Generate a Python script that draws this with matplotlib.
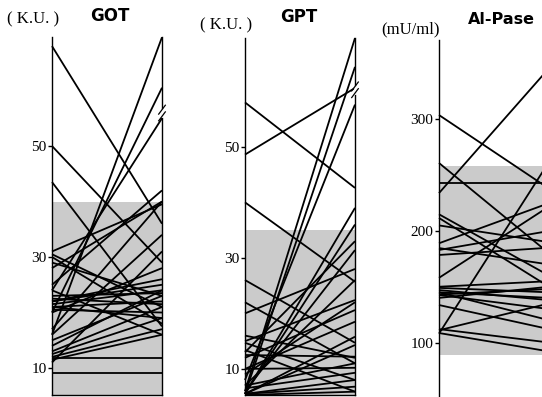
import matplotlib
matplotlib.use("Agg")
import matplotlib.pyplot as plt

# ---------------- data (before -> after) ----------------
got_before = [68, 50, 43.5, 16, 20, 24, 31, 30.5, 30, 29, 28, 25, 24, 22, 22,
              21.5, 21, 21, 20.5, 20, 17, 16, 15, 14, 13, 12.5, 12, 11.5, 11,
              11.8, 9.1, 23, 22.5]
got_after = [36, 29, 17.5, 69.6, 60.5, 55, 39.5, 21, 18, 23, 40, 42, 16, 25, 26,
             24, 22, 19, 20, 28, 40, 34, 23, 24, 21, 19, 17, 16, 31,
             11.8, 9.1, 23.5, 21.5]

gpt_before = [58, 48.6, 6, 5.5, 8, 40, 26, 5.5, 5.5, 6, 7, 13, 15, 16, 12,
              10, 5.5, 5.5, 9, 12.5, 10, 7, 6.5, 5.5, 5.5, 5.3, 14.7, 13.4,
              20, 22]
gpt_after = [42.6, 60.6, 69.6, 64.4, 57.6, 25.7, 14.7, 39, 36, 31.4, 26, 33,
             22.4, 12, 20.6, 18.5, 15.8, 14.3, 22, 12.2, 10.2, 11, 9.3, 8,
             6.8, 5.9, 8, 5.9, 28, 11]

alp_before = [304, 234, 243, 261, 108, 211.7, 205, 189, 184.7, 178.5, 158,
              149, 145, 142.6, 140, 133.6, 111, 108.5, 112, 145,
              147, 150, 143, 183, 215]
alp_after = [238, 346, 243, 180, 262, 150, 190, 225, 170, 185, 222,
             145, 140, 130, 150, 112, 135, 92, 100, 120,
             138, 155, 148, 200, 160]

got_normal = (0, 40)
gpt_normal = (0, 35)
alp_normal = (89, 258)

got_ticks = [10, 30, 50]
gpt_ticks = [10, 30, 50]
alp_ticks = [100, 200, 300]

# ---------------- figure ----------------
W, H = 542, 397
fig = plt.figure(figsize=(W / 100, H / 100), dpi=100)
fig.patch.set_facecolor("white")

serif = "Liberation Serif"


def px_axes(x0, x1, ytop, ybot):
    return fig.add_axes([x0 / W, (H - ybot) / H, (x1 - x0) / W, (ybot - ytop) / H])


def panel(ax, before, after, ylim, ticks, normal, bottom_spine=True, brk=None):
    ax.set_xlim(0, 1)
    ax.set_ylim(*ylim)
    lo = max(normal[0], ylim[0])
    ax.axhspan(lo, normal[1], facecolor="#cbcbcb", edgecolor="none", zorder=0)
    for b, a in zip(before, after):
        ax.plot([0, 1], [b, a], color="black", lw=1.3, solid_capstyle="butt",
                zorder=2, clip_on=False)
    ax.spines["top"].set_visible(False)
    ax.spines["bottom"].set_visible(bottom_spine)
    for s in ["left", "right", "bottom"]:
        ax.spines[s].set_linewidth(1.0)
    ax.set_xticks([])
    ax.set_yticks(ticks)
    ax.set_yticklabels([str(t) for t in ticks], fontfamily=serif, fontsize=11)
    ax.tick_params(axis="y", direction="out", length=3, width=1, pad=1)
    if brk is not None:
        for dy in (-0.6, 0.6):
            ax.plot([0.97, 1.03], [brk + dy - 0.8, brk + dy + 0.8],
                    color="black", lw=0.9, clip_on=False, zorder=4)
        ax.plot([1.0, 1.0], [brk - 0.5, brk + 0.5], color="white", lw=2,
                clip_on=False, zorder=3)


# GOT
ax1 = px_axes(52, 162, 37, 395)
panel(ax1, got_before, got_after, (5.14, 69.64), got_ticks, got_normal,
      brk=10 + (368 - 113) / 5.55)

# GPT
ax2 = px_axes(245, 355, 38, 395)
panel(ax2, gpt_before, gpt_after, (5.3, 69.6), gpt_ticks, gpt_normal,
      brk=10 + (369 - 90) / 5.55)

# Al-Pase
ax3 = px_axes(439, 549, 40, 397)
panel(ax3, alp_before, alp_after, (200 - (397 - 231) / 1.115, 200 + (231 - 40) / 1.115),
      alp_ticks, alp_normal, bottom_spine=False)

# ---------------- texts ----------------
def ftext(x, y, s, **kw):
    fig.text(x / W, 1 - y / H, s, ha="center", va="center", **kw)

ftext(33, 19, "( K.U. )", fontfamily=serif, fontsize=12)
ftext(110, 16, "GOT", fontfamily="DejaVu Sans", fontweight="bold", fontsize=12)
ftext(226, 25, "( K.U. )", fontfamily=serif, fontsize=12)
ftext(299, 17, "GPT", fontfamily="DejaVu Sans", fontweight="bold", fontsize=12)
ftext(410, 29, "(mU/ml)", fontfamily=serif, fontsize=12)
ftext(501, 20, "Al-Pase", fontfamily="DejaVu Sans", fontweight="bold", fontsize=11.5)

fig.savefig("out.png", dpi=100)
